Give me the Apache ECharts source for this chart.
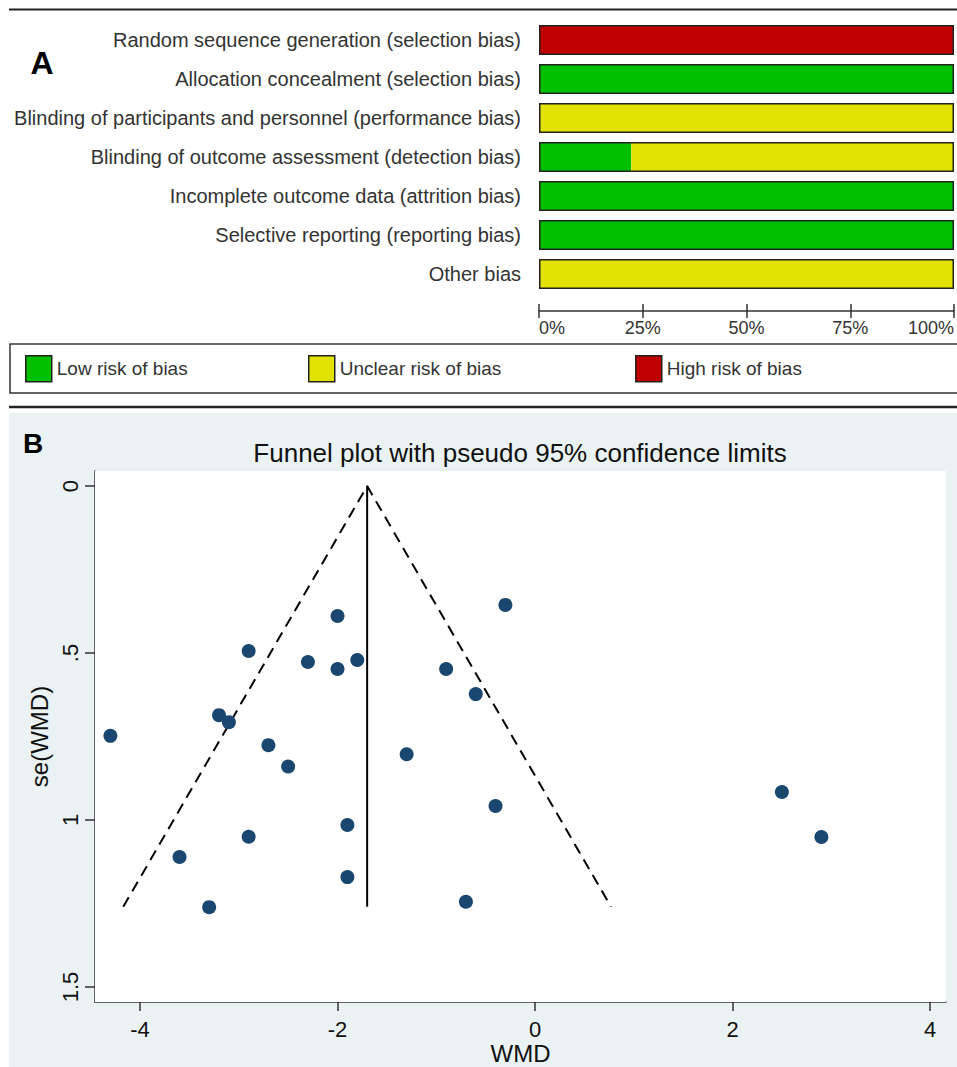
<!DOCTYPE html>
<html>
<head>
<meta charset="utf-8">
<script src="https://cdn.jsdelivr.net/npm/echarts@6.0.0/dist/echarts.min.js"></script>
<style>
html,body{margin:0;padding:0;background:#fff;}
#chart{width:957px;height:1067px;}
</style>
</head>
<body>
<div id="chart"></div>
<script>
// ---------- Panel A data ----------
var domains = [
  'Random sequence generation (selection bias)',
  'Allocation concealment (selection bias)',
  'Blinding of participants and personnel (performance bias)',
  'Blinding of outcome assessment (detection bias)',
  'Incomplete outcome data (attrition bias)',
  'Selective reporting (reporting bias)',
  'Other bias'
];
var lowRisk     = [0, 100, 0, 22.2, 100, 100, 0];
var unclearRisk = [0, 0, 100, 77.8, 0, 0, 100];
var highRisk    = [100, 0, 0, 0, 0, 0, 0];
var riskNames   = ['Low risk of bias', 'Unclear risk of bias', 'High risk of bias'];

// ---------- Panel B data ----------
var wmd = [-4.3, -3.2, -3.1, -2.9, -2.7, -2.5, -2.3, -2.0, -2.0, -1.8, -1.3, -0.9, -0.6, -0.3,
           -1.9, -2.9, -3.6, -1.9, -3.3, -0.7, -0.4, 2.5, 2.9];
var seWmd = [0.748, 0.686, 0.707, 0.494, 0.776, 0.840, 0.527, 0.389, 0.548, 0.521, 0.803, 0.548, 0.623, 0.356,
             1.015, 1.050, 1.111, 1.171, 1.261, 1.245, 0.958, 0.916, 1.051];
var pooledWmd = -1.7;
var funnelX = [-4.17, -1.7, 0.77];
var funnelY = [1.26, 0, 1.26];
var xTicksB = [-4, -2, 0, 2, 4];
var yTicksB = [0, 0.5, 1, 1.5];

var C_LOW = '#00C000', C_UNC = '#E2E200', C_HIGH = '#C00000';
var FA = 'Liberation Sans, Arial, sans-serif';

var chart = echarts.init(document.getElementById('chart'), null, {renderer: 'svg'});

var barCommon = {
  type: 'bar', stack: 'risk', xAxisIndex: 0, yAxisIndex: 0,
  barWidth: 30, barGap: '-100%', silent: true
};

function legendAt(name, left) {
  return {data: [name], left: left, top: 355, padding: 0, itemWidth: 26, itemHeight: 26, icon: 'rect',
          itemStyle: {borderColor: '#222', borderWidth: 1.5},
          textStyle: {fontFamily: FA, fontSize: 19, color: '#333'}, selectedMode: false};
}

var option = {
  animation: false,
  backgroundColor: '#fff',
  grid: [
    {left: 539, top: 20.5, width: 417, height: 273, containLabel: false},
    {left: 95, top: 471, width: 851, height: 531, show: true, backgroundColor: '#fff', borderWidth: 0, z: 1}
  ],
  legend: [
    legendAt(riskNames[0], 25),
    legendAt(riskNames[1], 308),
    legendAt(riskNames[2], 635)
  ],
  xAxis: [
    {gridIndex: 0, type: 'value', min: 0, max: 100, interval: 25, position: 'bottom', offset: 17.5,
     axisLine: {show: true, lineStyle: {color: '#333', width: 1.5}},
     axisTick: {show: true, length: 7, lineStyle: {color: '#333', width: 1.5}},
     axisLabel: {formatter: '{value}%', fontFamily: FA, fontSize: 18, color: '#333', margin: 8,
                 alignMinLabel: 'left', alignMaxLabel: 'right'},
     splitLine: {show: false}},
    {gridIndex: 0, type: 'value', min: 0, max: 100, interval: 25, position: 'bottom', offset: 17.5,
     axisLine: {show: false},
     axisTick: {show: true, inside: true, length: 7, lineStyle: {color: '#333', width: 1.5}},
     axisLabel: {show: false}, splitLine: {show: false}},
    {gridIndex: 1, type: 'value', min: -4.456, max: 4.162, position: 'bottom',
     name: 'WMD', nameLocation: 'middle', nameGap: 39,
     nameTextStyle: {fontFamily: FA, fontSize: 24, color: '#111'},
     axisLine: {show: true, onZero: false, lineStyle: {color: '#333', width: 1.5}},
     axisTick: {show: true, length: 9, customValues: xTicksB, lineStyle: {color: '#333', width: 1.5}},
     axisLabel: {customValues: xTicksB, fontFamily: FA, fontSize: 22, color: '#111', margin: 16},
     splitLine: {show: false}}
  ],
  yAxis: [
    {gridIndex: 0, type: 'category', data: domains, inverse: true,
     axisLine: {show: false}, axisTick: {show: false},
     axisLabel: {fontFamily: FA, fontSize: 20, color: '#333', margin: 18}},
    {gridIndex: 1, type: 'value', min: -0.045, max: 1.545, inverse: true,
     name: 'se(WMD)', nameLocation: 'middle', nameGap: 42,
     nameTextStyle: {fontFamily: FA, fontSize: 24, color: '#111'},
     axisLine: {show: true, onZero: false, lineStyle: {color: '#333', width: 1.5}},
     axisTick: {show: true, length: 10, customValues: yTicksB, lineStyle: {color: '#333', width: 1.5}},
     axisLabel: {customValues: yTicksB, rotate: 90, fontFamily: FA, fontSize: 22, color: '#111', margin: 14,
                 formatter: function (v) { return v === 0 ? '0' : String(v).replace(/^0\./, '.'); }},
     splitLine: {show: true, lineStyle: {color: '#EAF2F3', width: 2}}}
  ],
  series: [
    Object.assign({name: riskNames[0], data: lowRisk, itemStyle: {color: C_LOW}}, barCommon),
    Object.assign({name: riskNames[1], data: unclearRisk, itemStyle: {color: C_UNC}}, barCommon),
    Object.assign({name: riskNames[2], data: highRisk, itemStyle: {color: C_HIGH}}, barCommon),
    {type: 'bar', name: 'outline', xAxisIndex: 0, yAxisIndex: 0, barWidth: 30, barGap: '-100%', silent: true,
     data: lowRisk.map(function (v, i) { return v + unclearRisk[i] + highRisk[i]; }),
     itemStyle: {color: 'rgba(0,0,0,0)', borderColor: '#222', borderWidth: 1.5}, z: 3},
    {type: 'line', name: 'funnel', xAxisIndex: 2, yAxisIndex: 1, silent: true, symbol: 'none',
     data: funnelX.map(function (x, i) { return [x, funnelY[i]]; }),
     lineStyle: {color: '#000', width: 2, type: [11, 7]}, z: 2},
    {type: 'line', name: 'pooled', xAxisIndex: 2, yAxisIndex: 1, silent: true, symbol: 'none',
     data: [[pooledWmd, funnelY[1]], [pooledWmd, funnelY[0]]],
     lineStyle: {color: '#000', width: 2}, z: 2},
    {type: 'scatter', name: 'studies', xAxisIndex: 2, yAxisIndex: 1, silent: true,
     data: wmd.map(function (x, i) { return [x, seWmd[i]]; }),
     symbolSize: 14, itemStyle: {color: '#1a476f', opacity: 1}, z: 4}
  ],
  graphic: [
    {type: 'rect', z: -10, silent: true, shape: {x: 9, y: 413, width: 960, height: 660}, style: {fill: '#EAF2F3'}},
    {type: 'line', silent: true, shape: {x1: 9, y1: 9.5, x2: 957, y2: 9.5}, style: {stroke: '#222', lineWidth: 2}},
    {type: 'rect', silent: true, shape: {x: 10, y: 344, width: 960, height: 49}, style: {fill: 'none', stroke: '#333', lineWidth: 1.5}},
    {type: 'line', silent: true, shape: {x1: 9, y1: 407, x2: 957, y2: 407}, style: {stroke: '#222', lineWidth: 2.5}},
    {type: 'text', silent: true, x: 42, y: 63, style: {text: 'A', font: 'bold 32px Liberation Sans, Arial, sans-serif', fill: '#000', textAlign: 'center', textVerticalAlign: 'middle'}},
    {type: 'text', silent: true, x: 33, y: 443, style: {text: 'B', font: 'bold 28px Liberation Sans, Arial, sans-serif', fill: '#000', textAlign: 'center', textVerticalAlign: 'middle'}},
    {type: 'text', silent: true, x: 520, y: 453, style: {text: 'Funnel plot with pseudo 95% confidence limits', font: '26px Liberation Sans, Arial, sans-serif', fill: '#111', textAlign: 'center', textVerticalAlign: 'middle'}}
  ]
};
chart.setOption(option);
</script>
</body>
</html>
